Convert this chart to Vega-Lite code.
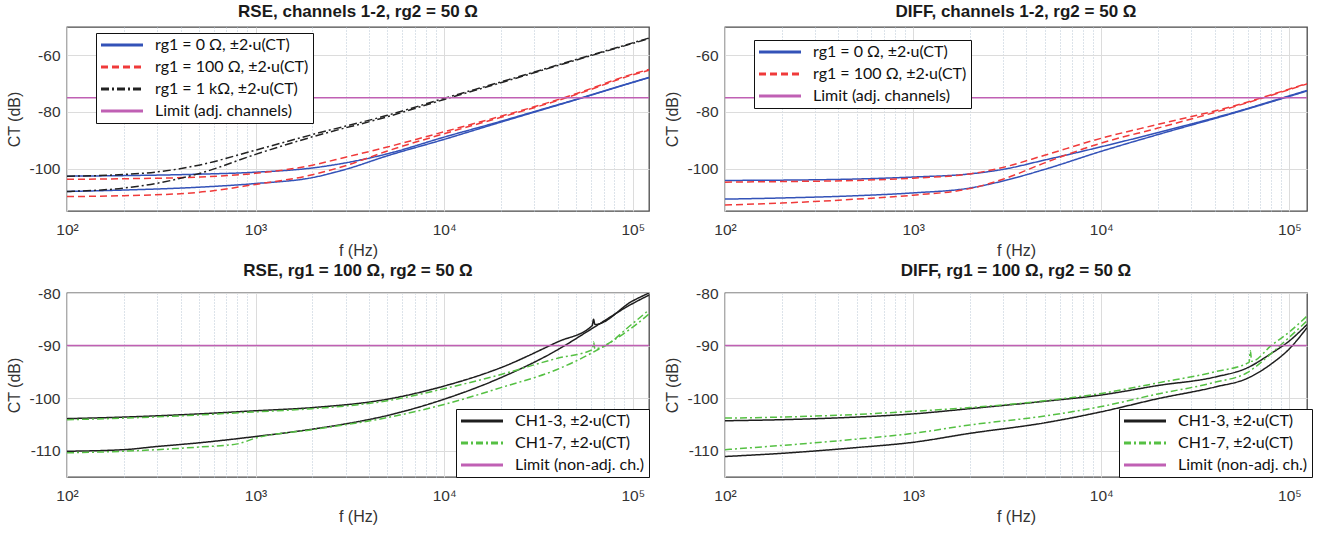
{
  "$schema": "https://vega.github.io/schema/vega-lite/v6.json",
  "padding": {"left": 6, "top": 2, "right": 5, "bottom": 5},
  "background": "white",
  "columns": 2,
  "spacing": {"row": 82, "column": 76},
  "bounds": "flush",
  "datasets": {
    "p1": [
      {"s":"rg1 = 0 Ω, ±2·u(CT)","c":"a","f":100,"ct":-102.7},{"s":"rg1 = 0 Ω, ±2·u(CT)","c":"a","f":200,"ct":-102.5},{"s":"rg1 = 0 Ω, ±2·u(CT)","c":"a","f":500,"ct":-102},{"s":"rg1 = 0 Ω, ±2·u(CT)","c":"a","f":1000,"ct":-101.3},{"s":"rg1 = 0 Ω, ±2·u(CT)","c":"a","f":2000,"ct":-99.8},{"s":"rg1 = 0 Ω, ±2·u(CT)","c":"a","f":3000,"ct":-98},{"s":"rg1 = 0 Ω, ±2·u(CT)","c":"a","f":5000,"ct":-94.8},{"s":"rg1 = 0 Ω, ±2·u(CT)","c":"a","f":10000,"ct":-88.9},{"s":"rg1 = 0 Ω, ±2·u(CT)","c":"a","f":20000,"ct":-83.3},{"s":"rg1 = 0 Ω, ±2·u(CT)","c":"a","f":30000,"ct":-79.9},{"s":"rg1 = 0 Ω, ±2·u(CT)","c":"a","f":50000,"ct":-75.6},{"s":"rg1 = 0 Ω, ±2·u(CT)","c":"a","f":100000,"ct":-69.5},{"s":"rg1 = 0 Ω, ±2·u(CT)","c":"a","f":122000,"ct":-67.8},
      {"s":"rg1 = 0 Ω, ±2·u(CT)","c":"b","f":100,"ct":-108.1},{"s":"rg1 = 0 Ω, ±2·u(CT)","c":"b","f":200,"ct":-107.6},{"s":"rg1 = 0 Ω, ±2·u(CT)","c":"b","f":500,"ct":-106.6},{"s":"rg1 = 0 Ω, ±2·u(CT)","c":"b","f":1000,"ct":-105.3},{"s":"rg1 = 0 Ω, ±2·u(CT)","c":"b","f":2000,"ct":-103.2},{"s":"rg1 = 0 Ω, ±2·u(CT)","c":"b","f":3000,"ct":-100.3},{"s":"rg1 = 0 Ω, ±2·u(CT)","c":"b","f":5000,"ct":-95.5},{"s":"rg1 = 0 Ω, ±2·u(CT)","c":"b","f":10000,"ct":-89.7},{"s":"rg1 = 0 Ω, ±2·u(CT)","c":"b","f":20000,"ct":-83.6},{"s":"rg1 = 0 Ω, ±2·u(CT)","c":"b","f":30000,"ct":-80.1},{"s":"rg1 = 0 Ω, ±2·u(CT)","c":"b","f":50000,"ct":-75.7},{"s":"rg1 = 0 Ω, ±2·u(CT)","c":"b","f":100000,"ct":-69.6},{"s":"rg1 = 0 Ω, ±2·u(CT)","c":"b","f":122000,"ct":-67.9},
      {"s":"rg1 = 100 Ω, ±2·u(CT)","c":"a","f":100,"ct":-103.8},{"s":"rg1 = 100 Ω, ±2·u(CT)","c":"a","f":200,"ct":-103.6},{"s":"rg1 = 100 Ω, ±2·u(CT)","c":"a","f":500,"ct":-103},{"s":"rg1 = 100 Ω, ±2·u(CT)","c":"a","f":1000,"ct":-101.7},{"s":"rg1 = 100 Ω, ±2·u(CT)","c":"a","f":2000,"ct":-98.8},{"s":"rg1 = 100 Ω, ±2·u(CT)","c":"a","f":3000,"ct":-96},{"s":"rg1 = 100 Ω, ±2·u(CT)","c":"a","f":5000,"ct":-92.4},{"s":"rg1 = 100 Ω, ±2·u(CT)","c":"a","f":10000,"ct":-87},{"s":"rg1 = 100 Ω, ±2·u(CT)","c":"a","f":20000,"ct":-81.5},{"s":"rg1 = 100 Ω, ±2·u(CT)","c":"a","f":30000,"ct":-78.2},{"s":"rg1 = 100 Ω, ±2·u(CT)","c":"a","f":50000,"ct":-73.6},{"s":"rg1 = 100 Ω, ±2·u(CT)","c":"a","f":100000,"ct":-66.6},{"s":"rg1 = 100 Ω, ±2·u(CT)","c":"a","f":122000,"ct":-65},
      {"s":"rg1 = 100 Ω, ±2·u(CT)","c":"b","f":100,"ct":-109.9},{"s":"rg1 = 100 Ω, ±2·u(CT)","c":"b","f":200,"ct":-109.6},{"s":"rg1 = 100 Ω, ±2·u(CT)","c":"b","f":500,"ct":-108.4},{"s":"rg1 = 100 Ω, ±2·u(CT)","c":"b","f":1000,"ct":-105.6},{"s":"rg1 = 100 Ω, ±2·u(CT)","c":"b","f":2000,"ct":-102.2},{"s":"rg1 = 100 Ω, ±2·u(CT)","c":"b","f":3000,"ct":-99},{"s":"rg1 = 100 Ω, ±2·u(CT)","c":"b","f":5000,"ct":-93.8},{"s":"rg1 = 100 Ω, ±2·u(CT)","c":"b","f":10000,"ct":-87.7},{"s":"rg1 = 100 Ω, ±2·u(CT)","c":"b","f":20000,"ct":-81.9},{"s":"rg1 = 100 Ω, ±2·u(CT)","c":"b","f":30000,"ct":-78.5},{"s":"rg1 = 100 Ω, ±2·u(CT)","c":"b","f":50000,"ct":-73.9},{"s":"rg1 = 100 Ω, ±2·u(CT)","c":"b","f":100000,"ct":-66.9},{"s":"rg1 = 100 Ω, ±2·u(CT)","c":"b","f":122000,"ct":-65.3},
      {"s":"rg1 = 1 kΩ, ±2·u(CT)","c":"a","f":100,"ct":-102.7},{"s":"rg1 = 1 kΩ, ±2·u(CT)","c":"a","f":200,"ct":-102.1},{"s":"rg1 = 1 kΩ, ±2·u(CT)","c":"a","f":300,"ct":-101.2},{"s":"rg1 = 1 kΩ, ±2·u(CT)","c":"a","f":500,"ct":-98.8},{"s":"rg1 = 1 kΩ, ±2·u(CT)","c":"a","f":1000,"ct":-93.5},{"s":"rg1 = 1 kΩ, ±2·u(CT)","c":"a","f":2000,"ct":-88},{"s":"rg1 = 1 kΩ, ±2·u(CT)","c":"a","f":5000,"ct":-81.2},{"s":"rg1 = 1 kΩ, ±2·u(CT)","c":"a","f":10000,"ct":-75.2},{"s":"rg1 = 1 kΩ, ±2·u(CT)","c":"a","f":20000,"ct":-69.4},{"s":"rg1 = 1 kΩ, ±2·u(CT)","c":"a","f":50000,"ct":-61.5},{"s":"rg1 = 1 kΩ, ±2·u(CT)","c":"a","f":100000,"ct":-55.6},{"s":"rg1 = 1 kΩ, ±2·u(CT)","c":"a","f":122000,"ct":-53.9},
      {"s":"rg1 = 1 kΩ, ±2·u(CT)","c":"b","f":100,"ct":-108.1},{"s":"rg1 = 1 kΩ, ±2·u(CT)","c":"b","f":200,"ct":-106.9},{"s":"rg1 = 1 kΩ, ±2·u(CT)","c":"b","f":300,"ct":-105.2},{"s":"rg1 = 1 kΩ, ±2·u(CT)","c":"b","f":500,"ct":-101.8},{"s":"rg1 = 1 kΩ, ±2·u(CT)","c":"b","f":1000,"ct":-95},{"s":"rg1 = 1 kΩ, ±2·u(CT)","c":"b","f":2000,"ct":-88.8},{"s":"rg1 = 1 kΩ, ±2·u(CT)","c":"b","f":5000,"ct":-81.7},{"s":"rg1 = 1 kΩ, ±2·u(CT)","c":"b","f":10000,"ct":-75.6},{"s":"rg1 = 1 kΩ, ±2·u(CT)","c":"b","f":20000,"ct":-69.7},{"s":"rg1 = 1 kΩ, ±2·u(CT)","c":"b","f":50000,"ct":-61.7},{"s":"rg1 = 1 kΩ, ±2·u(CT)","c":"b","f":100000,"ct":-55.8},{"s":"rg1 = 1 kΩ, ±2·u(CT)","c":"b","f":122000,"ct":-54.1},
      {"s":"Limit (adj. channels)","c":"l","f":100,"ct":-75},{"s":"Limit (adj. channels)","c":"l","f":122000,"ct":-75}
    ],
    "p2": [
      {"s":"rg1 = 0 Ω, ±2·u(CT)","c":"a","f":100,"ct":-104.2},{"s":"rg1 = 0 Ω, ±2·u(CT)","c":"a","f":200,"ct":-104.1},{"s":"rg1 = 0 Ω, ±2·u(CT)","c":"a","f":500,"ct":-103.7},{"s":"rg1 = 0 Ω, ±2·u(CT)","c":"a","f":1000,"ct":-103},{"s":"rg1 = 0 Ω, ±2·u(CT)","c":"a","f":2000,"ct":-101.9},{"s":"rg1 = 0 Ω, ±2·u(CT)","c":"a","f":3000,"ct":-100.3},{"s":"rg1 = 0 Ω, ±2·u(CT)","c":"a","f":5000,"ct":-97},{"s":"rg1 = 0 Ω, ±2·u(CT)","c":"a","f":10000,"ct":-92.3},{"s":"rg1 = 0 Ω, ±2·u(CT)","c":"a","f":20000,"ct":-87.3},{"s":"rg1 = 0 Ω, ±2·u(CT)","c":"a","f":50000,"ct":-80.3},{"s":"rg1 = 0 Ω, ±2·u(CT)","c":"a","f":100000,"ct":-74.3},{"s":"rg1 = 0 Ω, ±2·u(CT)","c":"a","f":124000,"ct":-72.4},
      {"s":"rg1 = 0 Ω, ±2·u(CT)","c":"b","f":100,"ct":-110.8},{"s":"rg1 = 0 Ω, ±2·u(CT)","c":"b","f":200,"ct":-110.4},{"s":"rg1 = 0 Ω, ±2·u(CT)","c":"b","f":500,"ct":-109.6},{"s":"rg1 = 0 Ω, ±2·u(CT)","c":"b","f":1000,"ct":-108.6},{"s":"rg1 = 0 Ω, ±2·u(CT)","c":"b","f":2000,"ct":-106.9},{"s":"rg1 = 0 Ω, ±2·u(CT)","c":"b","f":3000,"ct":-104.4},{"s":"rg1 = 0 Ω, ±2·u(CT)","c":"b","f":5000,"ct":-100.3},{"s":"rg1 = 0 Ω, ±2·u(CT)","c":"b","f":10000,"ct":-93.9},{"s":"rg1 = 0 Ω, ±2·u(CT)","c":"b","f":20000,"ct":-88},{"s":"rg1 = 0 Ω, ±2·u(CT)","c":"b","f":50000,"ct":-80.5},{"s":"rg1 = 0 Ω, ±2·u(CT)","c":"b","f":100000,"ct":-74.5},{"s":"rg1 = 0 Ω, ±2·u(CT)","c":"b","f":124000,"ct":-72.6},
      {"s":"rg1 = 100 Ω, ±2·u(CT)","c":"a","f":100,"ct":-104.8},{"s":"rg1 = 100 Ω, ±2·u(CT)","c":"a","f":200,"ct":-104.6},{"s":"rg1 = 100 Ω, ±2·u(CT)","c":"a","f":500,"ct":-104.2},{"s":"rg1 = 100 Ω, ±2·u(CT)","c":"a","f":1000,"ct":-103.4},{"s":"rg1 = 100 Ω, ±2·u(CT)","c":"a","f":2000,"ct":-101.9},{"s":"rg1 = 100 Ω, ±2·u(CT)","c":"a","f":3000,"ct":-99.6},{"s":"rg1 = 100 Ω, ±2·u(CT)","c":"a","f":5000,"ct":-95.3},{"s":"rg1 = 100 Ω, ±2·u(CT)","c":"a","f":10000,"ct":-89.3},{"s":"rg1 = 100 Ω, ±2·u(CT)","c":"a","f":20000,"ct":-84.4},{"s":"rg1 = 100 Ω, ±2·u(CT)","c":"a","f":50000,"ct":-78},{"s":"rg1 = 100 Ω, ±2·u(CT)","c":"a","f":100000,"ct":-71.9},{"s":"rg1 = 100 Ω, ±2·u(CT)","c":"a","f":124000,"ct":-69.9},
      {"s":"rg1 = 100 Ω, ±2·u(CT)","c":"b","f":100,"ct":-112.9},{"s":"rg1 = 100 Ω, ±2·u(CT)","c":"b","f":200,"ct":-112.2},{"s":"rg1 = 100 Ω, ±2·u(CT)","c":"b","f":500,"ct":-110.8},{"s":"rg1 = 100 Ω, ±2·u(CT)","c":"b","f":1000,"ct":-109.4},{"s":"rg1 = 100 Ω, ±2·u(CT)","c":"b","f":2000,"ct":-107.1},{"s":"rg1 = 100 Ω, ±2·u(CT)","c":"b","f":3000,"ct":-103.8},{"s":"rg1 = 100 Ω, ±2·u(CT)","c":"b","f":5000,"ct":-98},{"s":"rg1 = 100 Ω, ±2·u(CT)","c":"b","f":10000,"ct":-91},{"s":"rg1 = 100 Ω, ±2·u(CT)","c":"b","f":20000,"ct":-85.7},{"s":"rg1 = 100 Ω, ±2·u(CT)","c":"b","f":50000,"ct":-78.3},{"s":"rg1 = 100 Ω, ±2·u(CT)","c":"b","f":100000,"ct":-72.1},{"s":"rg1 = 100 Ω, ±2·u(CT)","c":"b","f":124000,"ct":-70.1},
      {"s":"Limit (adj. channels)","c":"l","f":100,"ct":-75},{"s":"Limit (adj. channels)","c":"l","f":124000,"ct":-75}
    ],
    "p3": [
      {"s":"CH1-3, ±2·u(CT)","c":"a","f":100,"ct":-103.9},{"s":"CH1-3, ±2·u(CT)","c":"a","f":200,"ct":-103.6},{"s":"CH1-3, ±2·u(CT)","c":"a","f":500,"ct":-103},{"s":"CH1-3, ±2·u(CT)","c":"a","f":1000,"ct":-102.4},{"s":"CH1-3, ±2·u(CT)","c":"a","f":2000,"ct":-101.8},{"s":"CH1-3, ±2·u(CT)","c":"a","f":5000,"ct":-100.2},{"s":"CH1-3, ±2·u(CT)","c":"a","f":10000,"ct":-97.7},{"s":"CH1-3, ±2·u(CT)","c":"a","f":20000,"ct":-94.2},{"s":"CH1-3, ±2·u(CT)","c":"a","f":40000,"ct":-89.3},{"s":"CH1-3, ±2·u(CT)","c":"a","f":61000,"ct":-86.2},{"s":"CH1-3, ±2·u(CT)","c":"a","f":62000,"ct":-85},{"s":"CH1-3, ±2·u(CT)","c":"a","f":63000,"ct":-86},{"s":"CH1-3, ±2·u(CT)","c":"a","f":100000,"ct":-81.5},{"s":"CH1-3, ±2·u(CT)","c":"a","f":122000,"ct":-80},
      {"s":"CH1-3, ±2·u(CT)","c":"b","f":100,"ct":-110.1},{"s":"CH1-3, ±2·u(CT)","c":"b","f":200,"ct":-109.8},{"s":"CH1-3, ±2·u(CT)","c":"b","f":300,"ct":-109.2},{"s":"CH1-3, ±2·u(CT)","c":"b","f":500,"ct":-108.5},{"s":"CH1-3, ±2·u(CT)","c":"b","f":1000,"ct":-107.3},{"s":"CH1-3, ±2·u(CT)","c":"b","f":2000,"ct":-105.9},{"s":"CH1-3, ±2·u(CT)","c":"b","f":3000,"ct":-104.9},{"s":"CH1-3, ±2·u(CT)","c":"b","f":5000,"ct":-103.3},{"s":"CH1-3, ±2·u(CT)","c":"b","f":10000,"ct":-100.2},{"s":"CH1-3, ±2·u(CT)","c":"b","f":20000,"ct":-96.1},{"s":"CH1-3, ±2·u(CT)","c":"b","f":40000,"ct":-90.8},{"s":"CH1-3, ±2·u(CT)","c":"b","f":60000,"ct":-86.9},{"s":"CH1-3, ±2·u(CT)","c":"b","f":100000,"ct":-82},{"s":"CH1-3, ±2·u(CT)","c":"b","f":122000,"ct":-80.4},
      {"s":"CH1-7, ±2·u(CT)","c":"a","f":100,"ct":-104.1},{"s":"CH1-7, ±2·u(CT)","c":"a","f":200,"ct":-103.8},{"s":"CH1-7, ±2·u(CT)","c":"a","f":500,"ct":-103.2},{"s":"CH1-7, ±2·u(CT)","c":"a","f":1000,"ct":-102.6},{"s":"CH1-7, ±2·u(CT)","c":"a","f":2000,"ct":-102},{"s":"CH1-7, ±2·u(CT)","c":"a","f":5000,"ct":-100.5},{"s":"CH1-7, ±2·u(CT)","c":"a","f":10000,"ct":-98.2},{"s":"CH1-7, ±2·u(CT)","c":"a","f":20000,"ct":-95.5},{"s":"CH1-7, ±2·u(CT)","c":"a","f":40000,"ct":-92.4},{"s":"CH1-7, ±2·u(CT)","c":"a","f":61000,"ct":-90.8},{"s":"CH1-7, ±2·u(CT)","c":"a","f":62000,"ct":-89.3},{"s":"CH1-7, ±2·u(CT)","c":"a","f":63000,"ct":-90.6},{"s":"CH1-7, ±2·u(CT)","c":"a","f":100000,"ct":-85.8},{"s":"CH1-7, ±2·u(CT)","c":"a","f":122000,"ct":-83.2},
      {"s":"CH1-7, ±2·u(CT)","c":"b","f":100,"ct":-110.4},{"s":"CH1-7, ±2·u(CT)","c":"b","f":200,"ct":-110.1},{"s":"CH1-7, ±2·u(CT)","c":"b","f":500,"ct":-109.3},{"s":"CH1-7, ±2·u(CT)","c":"b","f":800,"ct":-108.7},{"s":"CH1-7, ±2·u(CT)","c":"b","f":1000,"ct":-107.6},{"s":"CH1-7, ±2·u(CT)","c":"b","f":2000,"ct":-106},{"s":"CH1-7, ±2·u(CT)","c":"b","f":5000,"ct":-103.7},{"s":"CH1-7, ±2·u(CT)","c":"b","f":10000,"ct":-101.2},{"s":"CH1-7, ±2·u(CT)","c":"b","f":20000,"ct":-98},{"s":"CH1-7, ±2·u(CT)","c":"b","f":40000,"ct":-94.5},{"s":"CH1-7, ±2·u(CT)","c":"b","f":60000,"ct":-91.5},{"s":"CH1-7, ±2·u(CT)","c":"b","f":100000,"ct":-86.5},{"s":"CH1-7, ±2·u(CT)","c":"b","f":122000,"ct":-84},
      {"s":"Limit (non-adj. ch.)","c":"l","f":100,"ct":-90},{"s":"Limit (non-adj. ch.)","c":"l","f":122000,"ct":-90}
    ],
    "p4": [
      {"s":"CH1-3, ±2·u(CT)","c":"a","f":100,"ct":-104.3},{"s":"CH1-3, ±2·u(CT)","c":"a","f":200,"ct":-104.1},{"s":"CH1-3, ±2·u(CT)","c":"a","f":500,"ct":-103.6},{"s":"CH1-3, ±2·u(CT)","c":"a","f":1000,"ct":-103},{"s":"CH1-3, ±2·u(CT)","c":"a","f":2000,"ct":-102},{"s":"CH1-3, ±2·u(CT)","c":"a","f":5000,"ct":-100.6},{"s":"CH1-3, ±2·u(CT)","c":"a","f":10000,"ct":-99.4},{"s":"CH1-3, ±2·u(CT)","c":"a","f":20000,"ct":-97.6},{"s":"CH1-3, ±2·u(CT)","c":"a","f":40000,"ct":-96},{"s":"CH1-3, ±2·u(CT)","c":"a","f":60000,"ct":-94.2},{"s":"CH1-3, ±2·u(CT)","c":"a","f":80000,"ct":-91.5},{"s":"CH1-3, ±2·u(CT)","c":"a","f":100000,"ct":-89.1},{"s":"CH1-3, ±2·u(CT)","c":"a","f":124000,"ct":-86},
      {"s":"CH1-3, ±2·u(CT)","c":"b","f":100,"ct":-111.1},{"s":"CH1-3, ±2·u(CT)","c":"b","f":200,"ct":-110.5},{"s":"CH1-3, ±2·u(CT)","c":"b","f":500,"ct":-109.4},{"s":"CH1-3, ±2·u(CT)","c":"b","f":1000,"ct":-108.4},{"s":"CH1-3, ±2·u(CT)","c":"b","f":2000,"ct":-106.7},{"s":"CH1-3, ±2·u(CT)","c":"b","f":5000,"ct":-104.7},{"s":"CH1-3, ±2·u(CT)","c":"b","f":10000,"ct":-102.6},{"s":"CH1-3, ±2·u(CT)","c":"b","f":20000,"ct":-100.1},{"s":"CH1-3, ±2·u(CT)","c":"b","f":40000,"ct":-97.9},{"s":"CH1-3, ±2·u(CT)","c":"b","f":60000,"ct":-96.2},{"s":"CH1-3, ±2·u(CT)","c":"b","f":80000,"ct":-93.5},{"s":"CH1-3, ±2·u(CT)","c":"b","f":100000,"ct":-90.6},{"s":"CH1-3, ±2·u(CT)","c":"b","f":124000,"ct":-86.6},
      {"s":"CH1-7, ±2·u(CT)","c":"a","f":100,"ct":-103.8},{"s":"CH1-7, ±2·u(CT)","c":"a","f":200,"ct":-103.6},{"s":"CH1-7, ±2·u(CT)","c":"a","f":500,"ct":-103.1},{"s":"CH1-7, ±2·u(CT)","c":"a","f":1000,"ct":-102.5},{"s":"CH1-7, ±2·u(CT)","c":"a","f":2000,"ct":-101.8},{"s":"CH1-7, ±2·u(CT)","c":"a","f":5000,"ct":-100.5},{"s":"CH1-7, ±2·u(CT)","c":"a","f":10000,"ct":-99.1},{"s":"CH1-7, ±2·u(CT)","c":"a","f":20000,"ct":-97.1},{"s":"CH1-7, ±2·u(CT)","c":"a","f":40000,"ct":-95},{"s":"CH1-7, ±2·u(CT)","c":"a","f":61000,"ct":-93.2},{"s":"CH1-7, ±2·u(CT)","c":"a","f":62000,"ct":-91},{"s":"CH1-7, ±2·u(CT)","c":"a","f":63000,"ct":-93},{"s":"CH1-7, ±2·u(CT)","c":"a","f":80000,"ct":-90},{"s":"CH1-7, ±2·u(CT)","c":"a","f":100000,"ct":-87.4},{"s":"CH1-7, ±2·u(CT)","c":"a","f":124000,"ct":-84.4},
      {"s":"CH1-7, ±2·u(CT)","c":"b","f":100,"ct":-109.8},{"s":"CH1-7, ±2·u(CT)","c":"b","f":200,"ct":-109},{"s":"CH1-7, ±2·u(CT)","c":"b","f":500,"ct":-107.8},{"s":"CH1-7, ±2·u(CT)","c":"b","f":1000,"ct":-106.7},{"s":"CH1-7, ±2·u(CT)","c":"b","f":2000,"ct":-105.1},{"s":"CH1-7, ±2·u(CT)","c":"b","f":5000,"ct":-103.4},{"s":"CH1-7, ±2·u(CT)","c":"b","f":10000,"ct":-101.6},{"s":"CH1-7, ±2·u(CT)","c":"b","f":20000,"ct":-99.2},{"s":"CH1-7, ±2·u(CT)","c":"b","f":40000,"ct":-97},{"s":"CH1-7, ±2·u(CT)","c":"b","f":60000,"ct":-95.1},{"s":"CH1-7, ±2·u(CT)","c":"b","f":80000,"ct":-91.5},{"s":"CH1-7, ±2·u(CT)","c":"b","f":100000,"ct":-88.4},{"s":"CH1-7, ±2·u(CT)","c":"b","f":124000,"ct":-85.3},
      {"s":"Limit (non-adj. ch.)","c":"l","f":100,"ct":-90},{"s":"Limit (non-adj. ch.)","c":"l","f":124000,"ct":-90}
    ]
  },
  "concat": [
    {
      "title": "RSE, channels 1-2, rg2 = 50 Ω",
      "width": 582, "height": 184,
      "data": {"name": "p1"},
      "mark": {"type": "line", "interpolate": "monotone", "clip": true},
      "encoding": {
        "x": {"field": "f", "type": "quantitative", "scale": {"type": "log", "domain": [100, 122000], "nice": false},
          "axis": {"title": "f (Hz)", "values": [100,200,300,400,500,600,700,800,900,1000,2000,3000,4000,5000,6000,7000,8000,9000,10000,20000,30000,40000,50000,60000,70000,80000,90000,100000],
            "labelExpr": "datum.value == 100 ? '10²' : datum.value == 1000 ? '10³' : datum.value == 10000 ? '10⁴' : datum.value == 100000 ? '10⁵' : ''",
            "gridDash": {"condition": {"test": "datum.value == 100 || datum.value == 1000 || datum.value == 10000 || datum.value == 100000", "value": []}, "value": [1, 2]},
            "gridColor": {"condition": {"test": "datum.value == 100 || datum.value == 1000 || datum.value == 10000 || datum.value == 100000", "value": "#dcdcdc"}, "value": "#b9c6d4"}}},
        "y": {"field": "ct", "type": "quantitative", "scale": {"domain": [-115, -50], "nice": false, "zero": false}, "axis": {"title": "CT (dB)", "values": [-100, -80, -60], "labelExpr": "'-' + abs(datum.value)"}},
        "color": {"field": "s", "type": "nominal", "sort": null,
          "scale": {"domain": ["rg1 = 0 Ω, ±2·u(CT)", "rg1 = 100 Ω, ±2·u(CT)", "rg1 = 1 kΩ, ±2·u(CT)", "Limit (adj. channels)"], "range": ["#3352b8", "#f03a3a", "#222222", "#c060b4"]},
          "legend": {"orient": "none", "legendX": 29, "legendY": 6, "title": null, "symbolType": "M-3.5,0H3.5", "symbolSize": 144, "symbolOffset": 14, "labelOffset": 25, "symbolStrokeWidth": 3}},
        "strokeDash": {"field": "s", "type": "nominal", "sort": null,
          "scale": {"domain": ["rg1 = 0 Ω, ±2·u(CT)", "rg1 = 100 Ω, ±2·u(CT)", "rg1 = 1 kΩ, ±2·u(CT)", "Limit (adj. channels)"], "range": [[1, 0], [7, 4], [8, 3, 2, 3], [1, 0]]},
          "legend": {"orient": "none", "legendX": 29, "legendY": 6, "title": null, "symbolType": "M-3.5,0H3.5", "symbolSize": 144, "symbolOffset": 14, "labelOffset": 25, "symbolStrokeWidth": 3}},
        "strokeWidth": {"field": "c", "type": "nominal", "scale": {"domain": ["a", "b", "l"], "range": [1.5, 1.5, 2.2]}, "legend": null}
      }
    },
    {
      "title": "DIFF, channels 1-2, rg2 = 50 Ω",
      "width": 582, "height": 184,
      "data": {"name": "p2"},
      "mark": {"type": "line", "interpolate": "monotone", "clip": true},
      "encoding": {
        "x": {"field": "f", "type": "quantitative", "scale": {"type": "log", "domain": [100, 124000], "nice": false},
          "axis": {"title": "f (Hz)", "values": [100,200,300,400,500,600,700,800,900,1000,2000,3000,4000,5000,6000,7000,8000,9000,10000,20000,30000,40000,50000,60000,70000,80000,90000,100000],
            "labelExpr": "datum.value == 100 ? '10²' : datum.value == 1000 ? '10³' : datum.value == 10000 ? '10⁴' : datum.value == 100000 ? '10⁵' : ''",
            "gridDash": {"condition": {"test": "datum.value == 100 || datum.value == 1000 || datum.value == 10000 || datum.value == 100000", "value": []}, "value": [1, 2]},
            "gridColor": {"condition": {"test": "datum.value == 100 || datum.value == 1000 || datum.value == 10000 || datum.value == 100000", "value": "#dcdcdc"}, "value": "#b9c6d4"}}},
        "y": {"field": "ct", "type": "quantitative", "scale": {"domain": [-115, -50], "nice": false, "zero": false}, "axis": {"title": "CT (dB)", "values": [-100, -80, -60], "labelExpr": "'-' + abs(datum.value)"}},
        "color": {"field": "s", "type": "nominal", "sort": null,
          "scale": {"domain": ["rg1 = 0 Ω, ±2·u(CT)", "rg1 = 100 Ω, ±2·u(CT)", "Limit (adj. channels)"], "range": ["#3352b8", "#f03a3a", "#c060b4"]},
          "legend": {"orient": "none", "legendX": 29, "legendY": 13, "title": null, "symbolType": "M-3.5,0H3.5", "symbolSize": 144, "symbolOffset": 14, "labelOffset": 25, "symbolStrokeWidth": 3}},
        "strokeDash": {"field": "s", "type": "nominal", "sort": null,
          "scale": {"domain": ["rg1 = 0 Ω, ±2·u(CT)", "rg1 = 100 Ω, ±2·u(CT)", "Limit (adj. channels)"], "range": [[1, 0], [7, 4], [1, 0]]},
          "legend": {"orient": "none", "legendX": 29, "legendY": 13, "title": null, "symbolType": "M-3.5,0H3.5", "symbolSize": 144, "symbolOffset": 14, "labelOffset": 25, "symbolStrokeWidth": 3}},
        "strokeWidth": {"field": "c", "type": "nominal", "scale": {"domain": ["a", "b", "l"], "range": [1.5, 1.5, 2.2]}, "legend": null}
      }
    },
    {
      "title": "RSE, rg1 = 100 Ω, rg2 = 50 Ω",
      "width": 582, "height": 184,
      "data": {"name": "p3"},
      "mark": {"type": "line", "interpolate": "monotone", "clip": true},
      "encoding": {
        "x": {"field": "f", "type": "quantitative", "scale": {"type": "log", "domain": [100, 122000], "nice": false},
          "axis": {"title": "f (Hz)", "values": [100,200,300,400,500,600,700,800,900,1000,2000,3000,4000,5000,6000,7000,8000,9000,10000,20000,30000,40000,50000,60000,70000,80000,90000,100000],
            "labelExpr": "datum.value == 100 ? '10²' : datum.value == 1000 ? '10³' : datum.value == 10000 ? '10⁴' : datum.value == 100000 ? '10⁵' : ''",
            "gridDash": {"condition": {"test": "datum.value == 100 || datum.value == 1000 || datum.value == 10000 || datum.value == 100000", "value": []}, "value": [1, 2]},
            "gridColor": {"condition": {"test": "datum.value == 100 || datum.value == 1000 || datum.value == 10000 || datum.value == 100000", "value": "#dcdcdc"}, "value": "#b9c6d4"}}},
        "y": {"field": "ct", "type": "quantitative", "scale": {"domain": [-115, -80], "nice": false, "zero": false}, "axis": {"title": "CT (dB)", "values": [-110, -100, -90, -80], "labelExpr": "'-' + abs(datum.value)"}},
        "color": {"field": "s", "type": "nominal", "sort": null,
          "scale": {"domain": ["CH1-3, ±2·u(CT)", "CH1-7, ±2·u(CT)", "Limit (non-adj. ch.)"], "range": ["#1e1e1e", "#55c043", "#c060b4"]},
          "legend": {"orient": "bottom-right", "offset": 0, "title": null, "symbolType": "M-3.5,0H3.5", "symbolSize": 144, "symbolOffset": 14, "labelOffset": 25, "symbolStrokeWidth": 3}},
        "strokeDash": {"field": "s", "type": "nominal", "sort": null,
          "scale": {"domain": ["CH1-3, ±2·u(CT)", "CH1-7, ±2·u(CT)", "Limit (non-adj. ch.)"], "range": [[1, 0], [7, 3, 2, 3], [1, 0]]},
          "legend": {"orient": "bottom-right", "offset": 0, "title": null, "symbolType": "M-3.5,0H3.5", "symbolSize": 144, "symbolOffset": 14, "labelOffset": 25, "symbolStrokeWidth": 3}},
        "strokeWidth": {"field": "c", "type": "nominal", "scale": {"domain": ["a", "b", "l"], "range": [1.5, 1.5, 2.2]}, "legend": null}
      }
    },
    {
      "title": "DIFF, rg1 = 100 Ω, rg2 = 50 Ω",
      "width": 582, "height": 184,
      "data": {"name": "p4"},
      "mark": {"type": "line", "interpolate": "monotone", "clip": true},
      "encoding": {
        "x": {"field": "f", "type": "quantitative", "scale": {"type": "log", "domain": [100, 124000], "nice": false},
          "axis": {"title": "f (Hz)", "values": [100,200,300,400,500,600,700,800,900,1000,2000,3000,4000,5000,6000,7000,8000,9000,10000,20000,30000,40000,50000,60000,70000,80000,90000,100000],
            "labelExpr": "datum.value == 100 ? '10²' : datum.value == 1000 ? '10³' : datum.value == 10000 ? '10⁴' : datum.value == 100000 ? '10⁵' : ''",
            "gridDash": {"condition": {"test": "datum.value == 100 || datum.value == 1000 || datum.value == 10000 || datum.value == 100000", "value": []}, "value": [1, 2]},
            "gridColor": {"condition": {"test": "datum.value == 100 || datum.value == 1000 || datum.value == 10000 || datum.value == 100000", "value": "#dcdcdc"}, "value": "#b9c6d4"}}},
        "y": {"field": "ct", "type": "quantitative", "scale": {"domain": [-115, -80], "nice": false, "zero": false}, "axis": {"title": "CT (dB)", "values": [-110, -100, -90, -80], "labelExpr": "'-' + abs(datum.value)"}},
        "color": {"field": "s", "type": "nominal", "sort": null,
          "scale": {"domain": ["CH1-3, ±2·u(CT)", "CH1-7, ±2·u(CT)", "Limit (non-adj. ch.)"], "range": ["#1e1e1e", "#55c043", "#c060b4"]},
          "legend": {"orient": "none", "legendX": 394, "legendY": 116, "title": null, "symbolType": "M-3.5,0H3.5", "symbolSize": 144, "symbolOffset": 14, "labelOffset": 25, "symbolStrokeWidth": 3}},
        "strokeDash": {"field": "s", "type": "nominal", "sort": null,
          "scale": {"domain": ["CH1-3, ±2·u(CT)", "CH1-7, ±2·u(CT)", "Limit (non-adj. ch.)"], "range": [[1, 0], [7, 3, 2, 3], [1, 0]]},
          "legend": {"orient": "none", "legendX": 394, "legendY": 116, "title": null, "symbolType": "M-3.5,0H3.5", "symbolSize": 144, "symbolOffset": 14, "labelOffset": 25, "symbolStrokeWidth": 3}},
        "strokeWidth": {"field": "c", "type": "nominal", "scale": {"domain": ["a", "b", "l"], "range": [1.5, 1.5, 2.2]}, "legend": null}
      }
    }
  ],
  "resolve": {
    "scale": {"x": "independent", "y": "independent", "color": "independent", "strokeDash": "independent", "strokeWidth": "independent"},
    "legend": {"color": "independent", "strokeDash": "independent"}
  },
  "config": {
    "font": "Liberation Sans",
    "view": {"stroke": "#4a4a4a", "strokeWidth": 1.3},
    "axis": {"labelFont": "Liberation Sans", "labelFontSize": 15.5, "labelColor": "#333333", "titleFont": "Liberation Sans", "titleFontSize": 16, "titleFontWeight": "normal", "titleColor": "#333333", "domain": false, "ticks": false, "labelOverlap": false, "labelBound": false, "labelFlush": false},
    "axisX": {"labelPadding": 11, "titlePadding": 5},
    "axisY": {"gridColor": "#dcdcdc", "labelPadding": 7, "titlePadding": 6},
    "title": {"font": "Liberation Sans", "fontSize": 17, "fontWeight": "bold", "color": "#1a1a1a", "offset": 6},
    "legend": {"labelFont": "Lato", "labelFontSize": 16, "labelColor": "#111111", "labelLimit": 300, "symbolStrokeWidth": 3, "strokeColor": "#111111", "fillColor": "#ffffff", "padding": 4, "rowPadding": 6, "cornerRadius": 0}
  }
}
